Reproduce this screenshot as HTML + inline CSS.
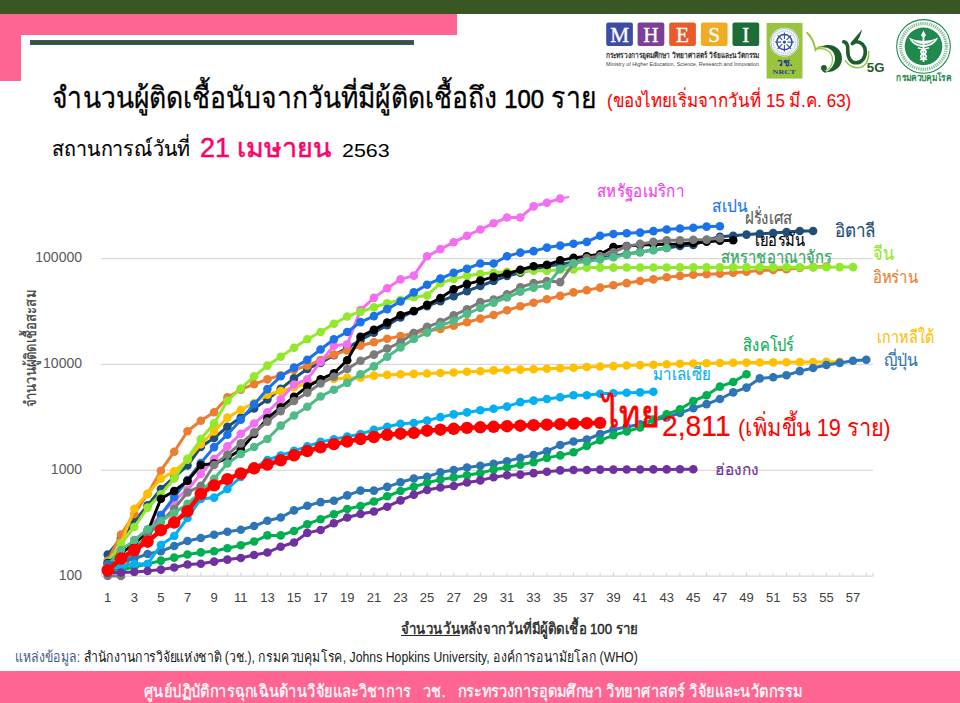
<!DOCTYPE html>
<html><head><meta charset="utf-8">
<style>
html,body{margin:0;padding:0;background:#fff;}
body{width:960px;height:703px;position:relative;overflow:hidden;font-family:"Liberation Sans",sans-serif;}
.t{position:absolute;white-space:nowrap;line-height:1;transform-origin:0 0;}
.xl{position:absolute;top:591px;width:30px;text-align:center;font-size:13px;color:#404040;line-height:1;}
.yl{position:absolute;font-size:14px;color:#595959;line-height:1;text-align:right;width:80px;}
</style></head><body>
<div style="position:absolute;left:0;top:0;width:960px;height:14px;background:#385723"></div>
<div style="position:absolute;left:0;top:14px;width:457px;height:21px;background:#ff6593"></div>
<div style="position:absolute;left:0;top:14px;width:21px;height:67px;background:#ff6593"></div>
<div style="position:absolute;left:30px;top:39.5px;width:384px;height:5.5px;background:#2f5597"></div>
<div style="position:absolute;left:31px;top:40.7px;width:382px;height:3px;background:#385723"></div>

<svg width="960" height="703" style="position:absolute;left:0;top:0">
<line x1="101" y1="258.6" x2="873" y2="258.6" stroke="#d9d9d9" stroke-width="1.3"/>
<line x1="101" y1="364.4" x2="873" y2="364.4" stroke="#d9d9d9" stroke-width="1.3"/>
<line x1="101" y1="470.3" x2="873" y2="470.3" stroke="#d9d9d9" stroke-width="1.3"/>
<line x1="101" y1="576.2" x2="873" y2="576.2" stroke="#d9d9d9" stroke-width="1.3"/>
<path d="M107.66 576.2V572.6M120.97 576.2V572.6M134.28 576.2V572.6M147.59 576.2V572.6M160.90 576.2V572.6M174.20 576.2V572.6M187.51 576.2V572.6M200.82 576.2V572.6M214.13 576.2V572.6M227.44 576.2V572.6M240.75 576.2V572.6M254.06 576.2V572.6M267.38 576.2V572.6M280.69 576.2V572.6M294.00 576.2V572.6M307.31 576.2V572.6M320.62 576.2V572.6M333.93 576.2V572.6M347.24 576.2V572.6M360.55 576.2V572.6M373.86 576.2V572.6M387.17 576.2V572.6M400.48 576.2V572.6M413.79 576.2V572.6M427.10 576.2V572.6M440.41 576.2V572.6M453.72 576.2V572.6M467.03 576.2V572.6M480.34 576.2V572.6M493.65 576.2V572.6M506.96 576.2V572.6M520.27 576.2V572.6M533.58 576.2V572.6M546.88 576.2V572.6M560.19 576.2V572.6M573.50 576.2V572.6M586.82 576.2V572.6M600.12 576.2V572.6M613.44 576.2V572.6M626.75 576.2V572.6M640.06 576.2V572.6M653.37 576.2V572.6M666.68 576.2V572.6M679.99 576.2V572.6M693.30 576.2V572.6M706.61 576.2V572.6M719.92 576.2V572.6M733.23 576.2V572.6M746.53 576.2V572.6M759.85 576.2V572.6M773.15 576.2V572.6M786.47 576.2V572.6M799.77 576.2V572.6M813.09 576.2V572.6M826.39 576.2V572.6M839.71 576.2V572.6M853.01 576.2V572.6M866.33 576.2V572.6M873 576.2V572.6M101.5 576.2V572.6" stroke="#d9d9d9" stroke-width="1.1" fill="none"/>
<polyline points="107.7,554.6 121.0,538.2 134.3,521.8 147.6,505.4 160.9,489.0 174.2,477.2 187.5,465.5 200.8,447.0 214.1,438.0 227.4,426.8 240.8,417.6 254.1,408.5 267.4,399.5 280.7,388.9 294.0,378.4 307.3,369.0 320.6,362.9 333.9,355.3 347.2,347.8 360.5,340.2 373.9,332.6 387.2,325.1 400.5,317.5 413.8,311.3 427.1,306.2 440.4,301.2 453.7,296.1 467.0,291.1 480.3,286.0 493.6,281.0 507.0,275.9 520.3,272.7 533.6,269.4 546.9,266.2 560.2,264.2 573.5,262.2 586.8,260.1 600.1,258.1 613.4,256.1 626.7,254.1 640.1,252.1 653.4,250.0 666.7,248.0 680.0,246.0 693.3,245.0 706.6,240.0 719.9,236.7 733.2,235.8 746.5,234.6 759.8,233.8 773.2,233.1 786.5,232.1 799.8,231.0 813.1,231.0" fill="none" stroke="#1f4e79" stroke-width="3.0" stroke-linejoin="round"/>
<g fill="#1f4e79"><circle cx="107.7" cy="554.6" r="4.3"/><circle cx="121.0" cy="538.2" r="4.3"/><circle cx="134.3" cy="521.8" r="4.3"/><circle cx="147.6" cy="505.4" r="4.3"/><circle cx="160.9" cy="489.0" r="4.3"/><circle cx="174.2" cy="477.2" r="4.3"/><circle cx="187.5" cy="465.5" r="4.3"/><circle cx="200.8" cy="447.0" r="4.3"/><circle cx="214.1" cy="438.0" r="4.3"/><circle cx="227.4" cy="426.8" r="4.3"/><circle cx="240.8" cy="417.6" r="4.3"/><circle cx="254.1" cy="408.5" r="4.3"/><circle cx="267.4" cy="399.5" r="4.3"/><circle cx="280.7" cy="388.9" r="4.3"/><circle cx="294.0" cy="378.4" r="4.3"/><circle cx="307.3" cy="369.0" r="4.3"/><circle cx="320.6" cy="362.9" r="4.3"/><circle cx="333.9" cy="355.3" r="4.3"/><circle cx="347.2" cy="347.8" r="4.3"/><circle cx="360.5" cy="340.2" r="4.3"/><circle cx="373.9" cy="332.6" r="4.3"/><circle cx="387.2" cy="325.1" r="4.3"/><circle cx="400.5" cy="317.5" r="4.3"/><circle cx="413.8" cy="311.3" r="4.3"/><circle cx="427.1" cy="306.2" r="4.3"/><circle cx="440.4" cy="301.2" r="4.3"/><circle cx="453.7" cy="296.1" r="4.3"/><circle cx="467.0" cy="291.1" r="4.3"/><circle cx="480.3" cy="286.0" r="4.3"/><circle cx="493.6" cy="281.0" r="4.3"/><circle cx="507.0" cy="275.9" r="4.3"/><circle cx="520.3" cy="272.7" r="4.3"/><circle cx="533.6" cy="269.4" r="4.3"/><circle cx="546.9" cy="266.2" r="4.3"/><circle cx="560.2" cy="264.2" r="4.3"/><circle cx="573.5" cy="262.2" r="4.3"/><circle cx="586.8" cy="260.1" r="4.3"/><circle cx="600.1" cy="258.1" r="4.3"/><circle cx="613.4" cy="256.1" r="4.3"/><circle cx="626.7" cy="254.1" r="4.3"/><circle cx="640.1" cy="252.1" r="4.3"/><circle cx="653.4" cy="250.0" r="4.3"/><circle cx="666.7" cy="248.0" r="4.3"/><circle cx="680.0" cy="246.0" r="4.3"/><circle cx="693.3" cy="245.0" r="4.3"/><circle cx="706.6" cy="240.0" r="4.3"/><circle cx="719.9" cy="236.7" r="4.3"/><circle cx="733.2" cy="235.8" r="4.3"/><circle cx="746.5" cy="234.6" r="4.3"/><circle cx="759.8" cy="233.8" r="4.3"/><circle cx="773.2" cy="233.1" r="4.3"/><circle cx="786.5" cy="232.1" r="4.3"/><circle cx="799.8" cy="231.0" r="4.3"/><circle cx="813.1" cy="231.0" r="4.3"/></g>
<polyline points="107.7,560.6 121.0,534.5 134.3,514.0 147.6,494.0 160.9,470.7 174.2,451.7 187.5,431.2 200.8,420.8 214.1,412.2 227.4,397.4 240.8,389.7 254.1,384.1 267.4,379.4 280.7,375.3 294.0,370.0 307.3,365.6 320.6,360.0 333.9,354.6 347.2,350.5 360.5,345.8 373.9,342.3 387.2,338.8 400.5,336.1 413.8,333.0 427.1,331.0 440.4,328.9 453.7,325.8 467.0,322.3 480.3,318.6 493.6,315.0 507.0,310.3 520.3,306.2 533.6,302.7 546.9,299.2 560.2,295.9 573.5,292.4 586.8,290.3 600.1,287.6 613.4,285.2 626.7,283.1 640.1,281.0 653.4,279.4 666.7,277.3 680.0,275.9 693.3,274.8 706.6,274.3 719.9,273.8 733.2,272.7 746.5,271.7 759.8,270.6 773.2,270.0 786.5,269.2 799.8,267.9 813.1,267.1 826.4,266.5" fill="none" stroke="#ed7d31" stroke-width="3.0" stroke-linejoin="round"/>
<g fill="#ed7d31"><circle cx="107.7" cy="560.6" r="4.3"/><circle cx="121.0" cy="534.5" r="4.3"/><circle cx="134.3" cy="514.0" r="4.3"/><circle cx="147.6" cy="494.0" r="4.3"/><circle cx="160.9" cy="470.7" r="4.3"/><circle cx="174.2" cy="451.7" r="4.3"/><circle cx="187.5" cy="431.2" r="4.3"/><circle cx="200.8" cy="420.8" r="4.3"/><circle cx="214.1" cy="412.2" r="4.3"/><circle cx="227.4" cy="397.4" r="4.3"/><circle cx="240.8" cy="389.7" r="4.3"/><circle cx="254.1" cy="384.1" r="4.3"/><circle cx="267.4" cy="379.4" r="4.3"/><circle cx="280.7" cy="375.3" r="4.3"/><circle cx="294.0" cy="370.0" r="4.3"/><circle cx="307.3" cy="365.6" r="4.3"/><circle cx="320.6" cy="360.0" r="4.3"/><circle cx="333.9" cy="354.6" r="4.3"/><circle cx="347.2" cy="350.5" r="4.3"/><circle cx="360.5" cy="345.8" r="4.3"/><circle cx="373.9" cy="342.3" r="4.3"/><circle cx="387.2" cy="338.8" r="4.3"/><circle cx="400.5" cy="336.1" r="4.3"/><circle cx="413.8" cy="333.0" r="4.3"/><circle cx="427.1" cy="331.0" r="4.3"/><circle cx="440.4" cy="328.9" r="4.3"/><circle cx="453.7" cy="325.8" r="4.3"/><circle cx="467.0" cy="322.3" r="4.3"/><circle cx="480.3" cy="318.6" r="4.3"/><circle cx="493.6" cy="315.0" r="4.3"/><circle cx="507.0" cy="310.3" r="4.3"/><circle cx="520.3" cy="306.2" r="4.3"/><circle cx="533.6" cy="302.7" r="4.3"/><circle cx="546.9" cy="299.2" r="4.3"/><circle cx="560.2" cy="295.9" r="4.3"/><circle cx="573.5" cy="292.4" r="4.3"/><circle cx="586.8" cy="290.3" r="4.3"/><circle cx="600.1" cy="287.6" r="4.3"/><circle cx="613.4" cy="285.2" r="4.3"/><circle cx="626.7" cy="283.1" r="4.3"/><circle cx="640.1" cy="281.0" r="4.3"/><circle cx="653.4" cy="279.4" r="4.3"/><circle cx="666.7" cy="277.3" r="4.3"/><circle cx="680.0" cy="275.9" r="4.3"/><circle cx="693.3" cy="274.8" r="4.3"/><circle cx="706.6" cy="274.3" r="4.3"/><circle cx="719.9" cy="273.8" r="4.3"/><circle cx="733.2" cy="272.7" r="4.3"/><circle cx="746.5" cy="271.7" r="4.3"/><circle cx="759.8" cy="270.6" r="4.3"/><circle cx="773.2" cy="270.0" r="4.3"/><circle cx="786.5" cy="269.2" r="4.3"/><circle cx="799.8" cy="267.9" r="4.3"/><circle cx="813.1" cy="267.1" r="4.3"/><circle cx="826.4" cy="266.5" r="4.3"/></g>
<polyline points="107.7,574.4 121.0,543.4 134.3,508.8 147.6,493.7 160.9,478.8 174.2,471.4 187.5,459.7 200.8,444.2 214.1,431.4 227.4,417.6 240.8,409.8 254.1,403.0 267.4,394.7 280.7,391.0 294.0,387.3 307.3,383.7 320.6,380.7 333.9,378.9 347.2,377.9 360.5,377.7 373.9,375.6 387.2,374.9 400.5,374.3 413.8,373.9 427.1,373.5 440.4,373.0 453.7,372.5 467.0,371.7 480.3,371.2 493.6,370.4 507.0,369.9 520.3,369.6 533.6,369.2 546.9,368.7 560.2,368.2 573.5,367.7 586.8,367.0 600.1,366.5 613.4,366.1 626.7,365.5 640.1,365.1 653.4,364.7 666.7,364.3 680.0,363.8 693.3,363.5 706.6,363.3 719.9,363.0 733.2,362.8 746.5,362.6 759.8,362.5 773.2,362.4 786.5,362.2 799.8,362.1 813.1,362.0 826.4,361.9 839.7,361.8" fill="none" stroke="#ffc000" stroke-width="3.0" stroke-linejoin="round"/>
<g fill="#ffc000"><circle cx="107.7" cy="574.4" r="4.3"/><circle cx="121.0" cy="543.4" r="4.3"/><circle cx="134.3" cy="508.8" r="4.3"/><circle cx="147.6" cy="493.7" r="4.3"/><circle cx="160.9" cy="478.8" r="4.3"/><circle cx="174.2" cy="471.4" r="4.3"/><circle cx="187.5" cy="459.7" r="4.3"/><circle cx="200.8" cy="444.2" r="4.3"/><circle cx="214.1" cy="431.4" r="4.3"/><circle cx="227.4" cy="417.6" r="4.3"/><circle cx="240.8" cy="409.8" r="4.3"/><circle cx="254.1" cy="403.0" r="4.3"/><circle cx="267.4" cy="394.7" r="4.3"/><circle cx="280.7" cy="391.0" r="4.3"/><circle cx="294.0" cy="387.3" r="4.3"/><circle cx="307.3" cy="383.7" r="4.3"/><circle cx="320.6" cy="380.7" r="4.3"/><circle cx="333.9" cy="378.9" r="4.3"/><circle cx="347.2" cy="377.9" r="4.3"/><circle cx="360.5" cy="377.7" r="4.3"/><circle cx="373.9" cy="375.6" r="4.3"/><circle cx="387.2" cy="374.9" r="4.3"/><circle cx="400.5" cy="374.3" r="4.3"/><circle cx="413.8" cy="373.9" r="4.3"/><circle cx="427.1" cy="373.5" r="4.3"/><circle cx="440.4" cy="373.0" r="4.3"/><circle cx="453.7" cy="372.5" r="4.3"/><circle cx="467.0" cy="371.7" r="4.3"/><circle cx="480.3" cy="371.2" r="4.3"/><circle cx="493.6" cy="370.4" r="4.3"/><circle cx="507.0" cy="369.9" r="4.3"/><circle cx="520.3" cy="369.6" r="4.3"/><circle cx="533.6" cy="369.2" r="4.3"/><circle cx="546.9" cy="368.7" r="4.3"/><circle cx="560.2" cy="368.2" r="4.3"/><circle cx="573.5" cy="367.7" r="4.3"/><circle cx="586.8" cy="367.0" r="4.3"/><circle cx="600.1" cy="366.5" r="4.3"/><circle cx="613.4" cy="366.1" r="4.3"/><circle cx="626.7" cy="365.5" r="4.3"/><circle cx="640.1" cy="365.1" r="4.3"/><circle cx="653.4" cy="364.7" r="4.3"/><circle cx="666.7" cy="364.3" r="4.3"/><circle cx="680.0" cy="363.8" r="4.3"/><circle cx="693.3" cy="363.5" r="4.3"/><circle cx="706.6" cy="363.3" r="4.3"/><circle cx="719.9" cy="363.0" r="4.3"/><circle cx="733.2" cy="362.8" r="4.3"/><circle cx="746.5" cy="362.6" r="4.3"/><circle cx="759.8" cy="362.5" r="4.3"/><circle cx="773.2" cy="362.4" r="4.3"/><circle cx="786.5" cy="362.2" r="4.3"/><circle cx="799.8" cy="362.1" r="4.3"/><circle cx="813.1" cy="362.0" r="4.3"/><circle cx="826.4" cy="361.9" r="4.3"/><circle cx="839.7" cy="361.8" r="4.3"/></g>
<polyline points="107.7,572.0 121.0,555.0 134.3,540.0 147.6,530.0 160.9,515.0 174.2,500.0 187.5,490.0 200.8,474.0 214.1,459.0 227.4,446.3 240.8,433.8 254.1,423.5 267.4,412.3 280.7,399.3 294.0,384.5 307.3,379.4 320.6,361.9 333.9,345.8 347.2,344.3 360.5,310.1 373.9,297.9 387.2,288.2 400.5,279.4 413.8,275.6 427.1,256.3 440.4,249.1 453.7,242.3 467.0,235.7 480.3,229.5 493.6,223.3 507.0,217.5 520.3,217.5 533.6,206.4 546.9,202.7 560.2,198.6" fill="none" stroke="#f46ef0" stroke-width="3.0" stroke-linejoin="round"/>
<g fill="#f46ef0"><circle cx="107.7" cy="572.0" r="4.3"/><circle cx="121.0" cy="555.0" r="4.3"/><circle cx="134.3" cy="540.0" r="4.3"/><circle cx="147.6" cy="530.0" r="4.3"/><circle cx="160.9" cy="515.0" r="4.3"/><circle cx="174.2" cy="500.0" r="4.3"/><circle cx="187.5" cy="490.0" r="4.3"/><circle cx="200.8" cy="474.0" r="4.3"/><circle cx="214.1" cy="459.0" r="4.3"/><circle cx="227.4" cy="446.3" r="4.3"/><circle cx="240.8" cy="433.8" r="4.3"/><circle cx="254.1" cy="423.5" r="4.3"/><circle cx="267.4" cy="412.3" r="4.3"/><circle cx="280.7" cy="399.3" r="4.3"/><circle cx="294.0" cy="384.5" r="4.3"/><circle cx="307.3" cy="379.4" r="4.3"/><circle cx="320.6" cy="361.9" r="4.3"/><circle cx="333.9" cy="345.8" r="4.3"/><circle cx="347.2" cy="344.3" r="4.3"/><circle cx="360.5" cy="310.1" r="4.3"/><circle cx="373.9" cy="297.9" r="4.3"/><circle cx="387.2" cy="288.2" r="4.3"/><circle cx="400.5" cy="279.4" r="4.3"/><circle cx="413.8" cy="275.6" r="4.3"/><circle cx="427.1" cy="256.3" r="4.3"/><circle cx="440.4" cy="249.1" r="4.3"/><circle cx="453.7" cy="242.3" r="4.3"/><circle cx="467.0" cy="235.7" r="4.3"/><circle cx="480.3" cy="229.5" r="4.3"/><circle cx="493.6" cy="223.3" r="4.3"/><circle cx="507.0" cy="217.5" r="4.3"/><circle cx="520.3" cy="217.5" r="4.3"/><circle cx="533.6" cy="206.4" r="4.3"/><circle cx="546.9" cy="202.7" r="4.3"/><circle cx="560.2" cy="198.6" r="4.3"/></g>
<polyline points="107.7,562.0 121.0,544.2 134.3,527.0 147.6,507.6 160.9,494.4 174.2,478.5 187.5,458.7 200.8,439.0 214.1,423.4 227.4,400.8 240.8,388.5 254.1,376.3 267.4,365.6 280.7,356.7 294.0,347.8 307.3,339.2 320.6,332.0 333.9,323.7 347.2,316.5 360.5,311.7 373.9,307.3 387.2,303.2 400.5,300.0 413.8,297.3 427.1,295.5 440.4,283.1 453.7,279.0 467.0,275.9 480.3,273.8 493.6,272.8 507.0,271.8 520.3,271.5 533.6,270.7 546.9,270.7 560.2,269.7 573.5,269.5 586.8,267.6 600.1,267.6 613.4,267.6 626.7,267.5 640.1,267.5 653.4,267.5 666.7,267.5 680.0,267.4 693.3,267.4 706.6,267.4 719.9,267.4 733.2,267.3 746.5,267.3 759.8,267.3 773.2,267.2 786.5,267.2 799.8,267.2 813.1,267.2 826.4,267.2 839.7,267.1 853.0,267.1" fill="none" stroke="#92e82a" stroke-width="3.0" stroke-linejoin="round"/>
<g fill="#92e82a"><circle cx="107.7" cy="562.0" r="4.3"/><circle cx="121.0" cy="544.2" r="4.3"/><circle cx="134.3" cy="527.0" r="4.3"/><circle cx="147.6" cy="507.6" r="4.3"/><circle cx="160.9" cy="494.4" r="4.3"/><circle cx="174.2" cy="478.5" r="4.3"/><circle cx="187.5" cy="458.7" r="4.3"/><circle cx="200.8" cy="439.0" r="4.3"/><circle cx="214.1" cy="423.4" r="4.3"/><circle cx="227.4" cy="400.8" r="4.3"/><circle cx="240.8" cy="388.5" r="4.3"/><circle cx="254.1" cy="376.3" r="4.3"/><circle cx="267.4" cy="365.6" r="4.3"/><circle cx="280.7" cy="356.7" r="4.3"/><circle cx="294.0" cy="347.8" r="4.3"/><circle cx="307.3" cy="339.2" r="4.3"/><circle cx="320.6" cy="332.0" r="4.3"/><circle cx="333.9" cy="323.7" r="4.3"/><circle cx="347.2" cy="316.5" r="4.3"/><circle cx="360.5" cy="311.7" r="4.3"/><circle cx="373.9" cy="307.3" r="4.3"/><circle cx="387.2" cy="303.2" r="4.3"/><circle cx="400.5" cy="300.0" r="4.3"/><circle cx="413.8" cy="297.3" r="4.3"/><circle cx="427.1" cy="295.5" r="4.3"/><circle cx="440.4" cy="283.1" r="4.3"/><circle cx="453.7" cy="279.0" r="4.3"/><circle cx="467.0" cy="275.9" r="4.3"/><circle cx="480.3" cy="273.8" r="4.3"/><circle cx="493.6" cy="272.8" r="4.3"/><circle cx="507.0" cy="271.8" r="4.3"/><circle cx="520.3" cy="271.5" r="4.3"/><circle cx="533.6" cy="270.7" r="4.3"/><circle cx="546.9" cy="270.7" r="4.3"/><circle cx="560.2" cy="269.7" r="4.3"/><circle cx="573.5" cy="269.5" r="4.3"/><circle cx="586.8" cy="267.6" r="4.3"/><circle cx="600.1" cy="267.6" r="4.3"/><circle cx="613.4" cy="267.6" r="4.3"/><circle cx="626.7" cy="267.5" r="4.3"/><circle cx="640.1" cy="267.5" r="4.3"/><circle cx="653.4" cy="267.5" r="4.3"/><circle cx="666.7" cy="267.5" r="4.3"/><circle cx="680.0" cy="267.4" r="4.3"/><circle cx="693.3" cy="267.4" r="4.3"/><circle cx="706.6" cy="267.4" r="4.3"/><circle cx="719.9" cy="267.4" r="4.3"/><circle cx="733.2" cy="267.3" r="4.3"/><circle cx="746.5" cy="267.3" r="4.3"/><circle cx="759.8" cy="267.3" r="4.3"/><circle cx="773.2" cy="267.2" r="4.3"/><circle cx="786.5" cy="267.2" r="4.3"/><circle cx="799.8" cy="267.2" r="4.3"/><circle cx="813.1" cy="267.2" r="4.3"/><circle cx="826.4" cy="267.2" r="4.3"/><circle cx="839.7" cy="267.1" r="4.3"/><circle cx="853.0" cy="267.1" r="4.3"/></g>
<polyline points="107.7,570.0 121.0,562.0 134.3,555.0 147.6,538.0 160.9,515.0 174.2,497.0 187.5,480.0 200.8,463.0 214.1,447.1 227.4,434.7 240.8,419.8 254.1,404.3 267.4,389.1 280.7,376.3 294.0,367.6 307.3,359.8 320.6,349.5 333.9,339.2 347.2,332.0 360.5,322.1 373.9,316.1 387.2,309.1 400.5,301.5 413.8,292.4 427.1,284.7 440.4,278.6 453.7,272.8 467.0,268.7 480.3,263.5 493.6,263.5 507.0,256.3 520.3,252.6 533.6,251.1 546.9,247.6 560.2,245.6 573.5,243.7 586.8,241.9 600.1,235.7 613.4,234.0 626.7,233.2 640.1,232.6 653.4,231.1 666.7,229.5 680.0,228.5 693.3,227.8 706.6,226.6 719.9,226.3" fill="none" stroke="#1a73e8" stroke-width="3.0" stroke-linejoin="round"/>
<g fill="#1a73e8"><circle cx="107.7" cy="570.0" r="4.3"/><circle cx="121.0" cy="562.0" r="4.3"/><circle cx="134.3" cy="555.0" r="4.3"/><circle cx="147.6" cy="538.0" r="4.3"/><circle cx="160.9" cy="515.0" r="4.3"/><circle cx="174.2" cy="497.0" r="4.3"/><circle cx="187.5" cy="480.0" r="4.3"/><circle cx="200.8" cy="463.0" r="4.3"/><circle cx="214.1" cy="447.1" r="4.3"/><circle cx="227.4" cy="434.7" r="4.3"/><circle cx="240.8" cy="419.8" r="4.3"/><circle cx="254.1" cy="404.3" r="4.3"/><circle cx="267.4" cy="389.1" r="4.3"/><circle cx="280.7" cy="376.3" r="4.3"/><circle cx="294.0" cy="367.6" r="4.3"/><circle cx="307.3" cy="359.8" r="4.3"/><circle cx="320.6" cy="349.5" r="4.3"/><circle cx="333.9" cy="339.2" r="4.3"/><circle cx="347.2" cy="332.0" r="4.3"/><circle cx="360.5" cy="322.1" r="4.3"/><circle cx="373.9" cy="316.1" r="4.3"/><circle cx="387.2" cy="309.1" r="4.3"/><circle cx="400.5" cy="301.5" r="4.3"/><circle cx="413.8" cy="292.4" r="4.3"/><circle cx="427.1" cy="284.7" r="4.3"/><circle cx="440.4" cy="278.6" r="4.3"/><circle cx="453.7" cy="272.8" r="4.3"/><circle cx="467.0" cy="268.7" r="4.3"/><circle cx="480.3" cy="263.5" r="4.3"/><circle cx="493.6" cy="263.5" r="4.3"/><circle cx="507.0" cy="256.3" r="4.3"/><circle cx="520.3" cy="252.6" r="4.3"/><circle cx="533.6" cy="251.1" r="4.3"/><circle cx="546.9" cy="247.6" r="4.3"/><circle cx="560.2" cy="245.6" r="4.3"/><circle cx="573.5" cy="243.7" r="4.3"/><circle cx="586.8" cy="241.9" r="4.3"/><circle cx="600.1" cy="235.7" r="4.3"/><circle cx="613.4" cy="234.0" r="4.3"/><circle cx="626.7" cy="233.2" r="4.3"/><circle cx="640.1" cy="232.6" r="4.3"/><circle cx="653.4" cy="231.1" r="4.3"/><circle cx="666.7" cy="229.5" r="4.3"/><circle cx="680.0" cy="228.5" r="4.3"/><circle cx="693.3" cy="227.8" r="4.3"/><circle cx="706.6" cy="226.6" r="4.3"/><circle cx="719.9" cy="226.3" r="4.3"/></g>
<polyline points="107.7,563.0 121.0,553.0 134.3,544.0 147.6,532.0 160.9,498.7 174.2,491.0 187.5,481.0 200.8,465.1 214.1,463.5 227.4,458.0 240.8,449.7 254.1,434.0 267.4,418.4 280.7,407.4 294.0,396.9 307.3,386.6 320.6,379.4 333.9,373.2 347.2,360.2 360.5,336.7 373.9,329.9 387.2,322.5 400.5,315.3 413.8,311.0 427.1,304.9 440.4,298.0 453.7,289.3 467.0,284.1 480.3,280.6 493.6,276.9 507.0,273.8 520.3,269.7 533.6,266.2 546.9,264.9 560.2,260.4 573.5,257.9 586.8,256.3 600.1,254.2 613.4,247.0 626.7,246.0 640.1,245.0 653.4,244.5 666.7,244.2 680.0,243.9 693.3,243.0 706.6,241.7 719.9,240.8 733.2,240.2" fill="none" stroke="#000000" stroke-width="3.0" stroke-linejoin="round"/>
<g fill="#000000"><circle cx="107.7" cy="563.0" r="4.3"/><circle cx="121.0" cy="553.0" r="4.3"/><circle cx="134.3" cy="544.0" r="4.3"/><circle cx="147.6" cy="532.0" r="4.3"/><circle cx="160.9" cy="498.7" r="4.3"/><circle cx="174.2" cy="491.0" r="4.3"/><circle cx="187.5" cy="481.0" r="4.3"/><circle cx="200.8" cy="465.1" r="4.3"/><circle cx="214.1" cy="463.5" r="4.3"/><circle cx="227.4" cy="458.0" r="4.3"/><circle cx="240.8" cy="449.7" r="4.3"/><circle cx="254.1" cy="434.0" r="4.3"/><circle cx="267.4" cy="418.4" r="4.3"/><circle cx="280.7" cy="407.4" r="4.3"/><circle cx="294.0" cy="396.9" r="4.3"/><circle cx="307.3" cy="386.6" r="4.3"/><circle cx="320.6" cy="379.4" r="4.3"/><circle cx="333.9" cy="373.2" r="4.3"/><circle cx="347.2" cy="360.2" r="4.3"/><circle cx="360.5" cy="336.7" r="4.3"/><circle cx="373.9" cy="329.9" r="4.3"/><circle cx="387.2" cy="322.5" r="4.3"/><circle cx="400.5" cy="315.3" r="4.3"/><circle cx="413.8" cy="311.0" r="4.3"/><circle cx="427.1" cy="304.9" r="4.3"/><circle cx="440.4" cy="298.0" r="4.3"/><circle cx="453.7" cy="289.3" r="4.3"/><circle cx="467.0" cy="284.1" r="4.3"/><circle cx="480.3" cy="280.6" r="4.3"/><circle cx="493.6" cy="276.9" r="4.3"/><circle cx="507.0" cy="273.8" r="4.3"/><circle cx="520.3" cy="269.7" r="4.3"/><circle cx="533.6" cy="266.2" r="4.3"/><circle cx="546.9" cy="264.9" r="4.3"/><circle cx="560.2" cy="260.4" r="4.3"/><circle cx="573.5" cy="257.9" r="4.3"/><circle cx="586.8" cy="256.3" r="4.3"/><circle cx="600.1" cy="254.2" r="4.3"/><circle cx="613.4" cy="247.0" r="4.3"/><circle cx="626.7" cy="246.0" r="4.3"/><circle cx="640.1" cy="245.0" r="4.3"/><circle cx="653.4" cy="244.5" r="4.3"/><circle cx="666.7" cy="244.2" r="4.3"/><circle cx="680.0" cy="243.9" r="4.3"/><circle cx="693.3" cy="243.0" r="4.3"/><circle cx="706.6" cy="241.7" r="4.3"/><circle cx="719.9" cy="240.8" r="4.3"/><circle cx="733.2" cy="240.2" r="4.3"/></g>
<polyline points="107.7,576.0 121.0,576.0 134.3,550.0 147.6,535.0 160.9,522.0 174.2,508.5 187.5,492.5 200.8,485.8 214.1,465.0 227.4,454.6 240.8,443.4 254.1,432.4 267.4,421.6 280.7,411.1 294.0,401.0 307.3,392.8 320.6,383.5 333.9,376.7 347.2,369.0 360.5,360.8 373.9,354.6 387.2,348.5 400.5,342.3 413.8,333.0 427.1,326.8 440.4,322.1 453.7,315.2 467.0,309.4 480.3,302.1 493.6,299.6 507.0,294.4 520.3,287.2 533.6,283.1 546.9,281.0 560.2,282.1 573.5,263.5 586.8,258.0 600.1,256.0 613.4,252.2 626.7,246.4 640.1,243.9 653.4,241.9 666.7,240.2 680.0,240.2 693.3,239.8 706.6,239.6 719.9,238.2" fill="none" stroke="#7b7b7b" stroke-width="3.0" stroke-linejoin="round"/>
<g fill="#7b7b7b"><circle cx="107.7" cy="576.0" r="4.3"/><circle cx="121.0" cy="576.0" r="4.3"/><circle cx="134.3" cy="550.0" r="4.3"/><circle cx="147.6" cy="535.0" r="4.3"/><circle cx="160.9" cy="522.0" r="4.3"/><circle cx="174.2" cy="508.5" r="4.3"/><circle cx="187.5" cy="492.5" r="4.3"/><circle cx="200.8" cy="485.8" r="4.3"/><circle cx="214.1" cy="465.0" r="4.3"/><circle cx="227.4" cy="454.6" r="4.3"/><circle cx="240.8" cy="443.4" r="4.3"/><circle cx="254.1" cy="432.4" r="4.3"/><circle cx="267.4" cy="421.6" r="4.3"/><circle cx="280.7" cy="411.1" r="4.3"/><circle cx="294.0" cy="401.0" r="4.3"/><circle cx="307.3" cy="392.8" r="4.3"/><circle cx="320.6" cy="383.5" r="4.3"/><circle cx="333.9" cy="376.7" r="4.3"/><circle cx="347.2" cy="369.0" r="4.3"/><circle cx="360.5" cy="360.8" r="4.3"/><circle cx="373.9" cy="354.6" r="4.3"/><circle cx="387.2" cy="348.5" r="4.3"/><circle cx="400.5" cy="342.3" r="4.3"/><circle cx="413.8" cy="333.0" r="4.3"/><circle cx="427.1" cy="326.8" r="4.3"/><circle cx="440.4" cy="322.1" r="4.3"/><circle cx="453.7" cy="315.2" r="4.3"/><circle cx="467.0" cy="309.4" r="4.3"/><circle cx="480.3" cy="302.1" r="4.3"/><circle cx="493.6" cy="299.6" r="4.3"/><circle cx="507.0" cy="294.4" r="4.3"/><circle cx="520.3" cy="287.2" r="4.3"/><circle cx="533.6" cy="283.1" r="4.3"/><circle cx="546.9" cy="281.0" r="4.3"/><circle cx="560.2" cy="282.1" r="4.3"/><circle cx="573.5" cy="263.5" r="4.3"/><circle cx="586.8" cy="258.0" r="4.3"/><circle cx="600.1" cy="256.0" r="4.3"/><circle cx="613.4" cy="252.2" r="4.3"/><circle cx="626.7" cy="246.4" r="4.3"/><circle cx="640.1" cy="243.9" r="4.3"/><circle cx="653.4" cy="241.9" r="4.3"/><circle cx="666.7" cy="240.2" r="4.3"/><circle cx="680.0" cy="240.2" r="4.3"/><circle cx="693.3" cy="239.8" r="4.3"/><circle cx="706.6" cy="239.6" r="4.3"/><circle cx="719.9" cy="238.2" r="4.3"/></g>
<polyline points="107.7,565.0 121.0,550.1 134.3,540.4 147.6,529.3 160.9,521.0 174.2,513.0 187.5,503.9 200.8,492.0 214.1,478.8 227.4,463.4 240.8,454.0 254.1,447.0 267.4,439.0 280.7,425.6 294.0,415.5 307.3,406.8 320.6,396.5 333.9,389.7 347.2,382.9 360.5,374.2 373.9,366.4 387.2,356.7 400.5,347.4 413.8,339.0 427.1,332.6 440.4,325.5 453.7,320.8 467.0,314.0 480.3,308.0 493.6,302.6 507.0,297.5 520.3,291.8 533.6,287.6 546.9,285.6 560.2,268.7 573.5,263.0 586.8,261.4 600.1,259.4 613.4,257.3 626.7,254.6 640.1,252.2 653.4,250.1 666.7,248.0" fill="none" stroke="#4fbb87" stroke-width="3.0" stroke-linejoin="round"/>
<g fill="#4fbb87"><circle cx="107.7" cy="565.0" r="4.3"/><circle cx="121.0" cy="550.1" r="4.3"/><circle cx="134.3" cy="540.4" r="4.3"/><circle cx="147.6" cy="529.3" r="4.3"/><circle cx="160.9" cy="521.0" r="4.3"/><circle cx="174.2" cy="513.0" r="4.3"/><circle cx="187.5" cy="503.9" r="4.3"/><circle cx="200.8" cy="492.0" r="4.3"/><circle cx="214.1" cy="478.8" r="4.3"/><circle cx="227.4" cy="463.4" r="4.3"/><circle cx="240.8" cy="454.0" r="4.3"/><circle cx="254.1" cy="447.0" r="4.3"/><circle cx="267.4" cy="439.0" r="4.3"/><circle cx="280.7" cy="425.6" r="4.3"/><circle cx="294.0" cy="415.5" r="4.3"/><circle cx="307.3" cy="406.8" r="4.3"/><circle cx="320.6" cy="396.5" r="4.3"/><circle cx="333.9" cy="389.7" r="4.3"/><circle cx="347.2" cy="382.9" r="4.3"/><circle cx="360.5" cy="374.2" r="4.3"/><circle cx="373.9" cy="366.4" r="4.3"/><circle cx="387.2" cy="356.7" r="4.3"/><circle cx="400.5" cy="347.4" r="4.3"/><circle cx="413.8" cy="339.0" r="4.3"/><circle cx="427.1" cy="332.6" r="4.3"/><circle cx="440.4" cy="325.5" r="4.3"/><circle cx="453.7" cy="320.8" r="4.3"/><circle cx="467.0" cy="314.0" r="4.3"/><circle cx="480.3" cy="308.0" r="4.3"/><circle cx="493.6" cy="302.6" r="4.3"/><circle cx="507.0" cy="297.5" r="4.3"/><circle cx="520.3" cy="291.8" r="4.3"/><circle cx="533.6" cy="287.6" r="4.3"/><circle cx="546.9" cy="285.6" r="4.3"/><circle cx="560.2" cy="268.7" r="4.3"/><circle cx="573.5" cy="263.0" r="4.3"/><circle cx="586.8" cy="261.4" r="4.3"/><circle cx="600.1" cy="259.4" r="4.3"/><circle cx="613.4" cy="257.3" r="4.3"/><circle cx="626.7" cy="254.6" r="4.3"/><circle cx="640.1" cy="252.2" r="4.3"/><circle cx="653.4" cy="250.1" r="4.3"/><circle cx="666.7" cy="248.0" r="4.3"/></g>
<polyline points="107.7,563.7 121.0,561.6 134.3,558.6 147.6,554.0 160.9,551.3 174.2,546.0 187.5,541.0 200.8,538.0 214.1,534.8 227.4,531.8 240.8,529.7 254.1,526.0 267.4,520.8 280.7,517.5 294.0,510.4 307.3,505.8 320.6,502.1 333.9,500.8 347.2,495.4 360.5,490.6 373.9,490.6 387.2,486.9 400.5,482.3 413.8,478.5 427.1,476.7 440.4,472.3 453.7,470.0 467.0,467.5 480.3,465.8 493.6,463.8 507.0,461.2 520.3,457.9 533.6,455.0 546.9,451.2 560.2,445.0 573.5,441.5 586.8,439.5 600.1,434.0 613.4,429.5 626.7,427.0 640.1,424.2 653.4,420.0 666.7,417.5 680.0,413.0 693.3,408.2 706.6,404.1 719.9,399.0 733.2,392.4 746.5,387.6 759.8,378.4 773.2,377.3 786.5,375.3 799.8,371.1 813.1,368.0 826.4,365.0 839.7,362.9 853.0,360.8 866.3,359.8" fill="none" stroke="#2e75b6" stroke-width="3.0" stroke-linejoin="round"/>
<g fill="#2e75b6"><circle cx="107.7" cy="563.7" r="4.3"/><circle cx="121.0" cy="561.6" r="4.3"/><circle cx="134.3" cy="558.6" r="4.3"/><circle cx="147.6" cy="554.0" r="4.3"/><circle cx="160.9" cy="551.3" r="4.3"/><circle cx="174.2" cy="546.0" r="4.3"/><circle cx="187.5" cy="541.0" r="4.3"/><circle cx="200.8" cy="538.0" r="4.3"/><circle cx="214.1" cy="534.8" r="4.3"/><circle cx="227.4" cy="531.8" r="4.3"/><circle cx="240.8" cy="529.7" r="4.3"/><circle cx="254.1" cy="526.0" r="4.3"/><circle cx="267.4" cy="520.8" r="4.3"/><circle cx="280.7" cy="517.5" r="4.3"/><circle cx="294.0" cy="510.4" r="4.3"/><circle cx="307.3" cy="505.8" r="4.3"/><circle cx="320.6" cy="502.1" r="4.3"/><circle cx="333.9" cy="500.8" r="4.3"/><circle cx="347.2" cy="495.4" r="4.3"/><circle cx="360.5" cy="490.6" r="4.3"/><circle cx="373.9" cy="490.6" r="4.3"/><circle cx="387.2" cy="486.9" r="4.3"/><circle cx="400.5" cy="482.3" r="4.3"/><circle cx="413.8" cy="478.5" r="4.3"/><circle cx="427.1" cy="476.7" r="4.3"/><circle cx="440.4" cy="472.3" r="4.3"/><circle cx="453.7" cy="470.0" r="4.3"/><circle cx="467.0" cy="467.5" r="4.3"/><circle cx="480.3" cy="465.8" r="4.3"/><circle cx="493.6" cy="463.8" r="4.3"/><circle cx="507.0" cy="461.2" r="4.3"/><circle cx="520.3" cy="457.9" r="4.3"/><circle cx="533.6" cy="455.0" r="4.3"/><circle cx="546.9" cy="451.2" r="4.3"/><circle cx="560.2" cy="445.0" r="4.3"/><circle cx="573.5" cy="441.5" r="4.3"/><circle cx="586.8" cy="439.5" r="4.3"/><circle cx="600.1" cy="434.0" r="4.3"/><circle cx="613.4" cy="429.5" r="4.3"/><circle cx="626.7" cy="427.0" r="4.3"/><circle cx="640.1" cy="424.2" r="4.3"/><circle cx="653.4" cy="420.0" r="4.3"/><circle cx="666.7" cy="417.5" r="4.3"/><circle cx="680.0" cy="413.0" r="4.3"/><circle cx="693.3" cy="408.2" r="4.3"/><circle cx="706.6" cy="404.1" r="4.3"/><circle cx="719.9" cy="399.0" r="4.3"/><circle cx="733.2" cy="392.4" r="4.3"/><circle cx="746.5" cy="387.6" r="4.3"/><circle cx="759.8" cy="378.4" r="4.3"/><circle cx="773.2" cy="377.3" r="4.3"/><circle cx="786.5" cy="375.3" r="4.3"/><circle cx="799.8" cy="371.1" r="4.3"/><circle cx="813.1" cy="368.0" r="4.3"/><circle cx="826.4" cy="365.0" r="4.3"/><circle cx="839.7" cy="362.9" r="4.3"/><circle cx="853.0" cy="360.8" r="4.3"/><circle cx="866.3" cy="359.8" r="4.3"/></g>
<polyline points="107.7,571.0 121.0,570.0 134.3,567.0 147.6,564.0 160.9,560.6 174.2,557.6 187.5,554.5 200.8,552.4 214.1,551.3 227.4,548.2 240.8,545.2 254.1,541.5 267.4,535.4 280.7,535.4 294.0,531.0 307.3,524.2 320.6,519.2 333.9,514.2 347.2,509.0 360.5,506.0 373.9,501.5 387.2,496.3 400.5,491.0 413.8,486.9 427.1,482.7 440.4,479.6 453.7,477.4 467.0,475.2 480.3,473.1 493.6,469.6 507.0,467.5 520.3,464.8 533.6,462.1 546.9,457.9 560.2,455.4 573.5,452.3 586.8,446.0 600.1,440.3 613.4,435.3 626.7,431.5 640.1,427.5 653.4,419.6 666.7,414.4 680.0,409.3 693.3,401.0 706.6,395.3 719.9,386.6 733.2,382.0 746.5,374.2" fill="none" stroke="#00b050" stroke-width="3.0" stroke-linejoin="round"/>
<g fill="#00b050"><circle cx="107.7" cy="571.0" r="4.3"/><circle cx="121.0" cy="570.0" r="4.3"/><circle cx="134.3" cy="567.0" r="4.3"/><circle cx="147.6" cy="564.0" r="4.3"/><circle cx="160.9" cy="560.6" r="4.3"/><circle cx="174.2" cy="557.6" r="4.3"/><circle cx="187.5" cy="554.5" r="4.3"/><circle cx="200.8" cy="552.4" r="4.3"/><circle cx="214.1" cy="551.3" r="4.3"/><circle cx="227.4" cy="548.2" r="4.3"/><circle cx="240.8" cy="545.2" r="4.3"/><circle cx="254.1" cy="541.5" r="4.3"/><circle cx="267.4" cy="535.4" r="4.3"/><circle cx="280.7" cy="535.4" r="4.3"/><circle cx="294.0" cy="531.0" r="4.3"/><circle cx="307.3" cy="524.2" r="4.3"/><circle cx="320.6" cy="519.2" r="4.3"/><circle cx="333.9" cy="514.2" r="4.3"/><circle cx="347.2" cy="509.0" r="4.3"/><circle cx="360.5" cy="506.0" r="4.3"/><circle cx="373.9" cy="501.5" r="4.3"/><circle cx="387.2" cy="496.3" r="4.3"/><circle cx="400.5" cy="491.0" r="4.3"/><circle cx="413.8" cy="486.9" r="4.3"/><circle cx="427.1" cy="482.7" r="4.3"/><circle cx="440.4" cy="479.6" r="4.3"/><circle cx="453.7" cy="477.4" r="4.3"/><circle cx="467.0" cy="475.2" r="4.3"/><circle cx="480.3" cy="473.1" r="4.3"/><circle cx="493.6" cy="469.6" r="4.3"/><circle cx="507.0" cy="467.5" r="4.3"/><circle cx="520.3" cy="464.8" r="4.3"/><circle cx="533.6" cy="462.1" r="4.3"/><circle cx="546.9" cy="457.9" r="4.3"/><circle cx="560.2" cy="455.4" r="4.3"/><circle cx="573.5" cy="452.3" r="4.3"/><circle cx="586.8" cy="446.0" r="4.3"/><circle cx="600.1" cy="440.3" r="4.3"/><circle cx="613.4" cy="435.3" r="4.3"/><circle cx="626.7" cy="431.5" r="4.3"/><circle cx="640.1" cy="427.5" r="4.3"/><circle cx="653.4" cy="419.6" r="4.3"/><circle cx="666.7" cy="414.4" r="4.3"/><circle cx="680.0" cy="409.3" r="4.3"/><circle cx="693.3" cy="401.0" r="4.3"/><circle cx="706.6" cy="395.3" r="4.3"/><circle cx="719.9" cy="386.6" r="4.3"/><circle cx="733.2" cy="382.0" r="4.3"/><circle cx="746.5" cy="374.2" r="4.3"/></g>
<polyline points="107.7,568.0 121.0,567.0 134.3,563.7 147.6,564.0 160.9,545.0 174.2,536.0 187.5,518.0 200.8,499.0 214.1,497.6 227.4,489.0 240.8,477.0 254.1,468.0 267.4,460.0 280.7,455.5 294.0,450.9 307.3,446.4 320.6,441.9 333.9,439.3 347.2,436.6 360.5,434.0 373.9,429.9 387.2,426.8 400.5,423.7 413.8,423.0 427.1,420.6 440.4,417.1 453.7,414.4 467.0,412.4 480.3,410.3 493.6,408.7 507.0,406.6 520.3,402.1 533.6,400.6 546.9,399.0 560.2,397.3 573.5,395.3 586.8,395.3 600.1,393.8 613.4,393.2 626.7,392.8 640.1,392.4 653.4,391.8" fill="none" stroke="#00b0f0" stroke-width="3.0" stroke-linejoin="round"/>
<g fill="#00b0f0"><circle cx="107.7" cy="568.0" r="4.3"/><circle cx="121.0" cy="567.0" r="4.3"/><circle cx="134.3" cy="563.7" r="4.3"/><circle cx="147.6" cy="564.0" r="4.3"/><circle cx="160.9" cy="545.0" r="4.3"/><circle cx="174.2" cy="536.0" r="4.3"/><circle cx="187.5" cy="518.0" r="4.3"/><circle cx="200.8" cy="499.0" r="4.3"/><circle cx="214.1" cy="497.6" r="4.3"/><circle cx="227.4" cy="489.0" r="4.3"/><circle cx="240.8" cy="477.0" r="4.3"/><circle cx="254.1" cy="468.0" r="4.3"/><circle cx="267.4" cy="460.0" r="4.3"/><circle cx="280.7" cy="455.5" r="4.3"/><circle cx="294.0" cy="450.9" r="4.3"/><circle cx="307.3" cy="446.4" r="4.3"/><circle cx="320.6" cy="441.9" r="4.3"/><circle cx="333.9" cy="439.3" r="4.3"/><circle cx="347.2" cy="436.6" r="4.3"/><circle cx="360.5" cy="434.0" r="4.3"/><circle cx="373.9" cy="429.9" r="4.3"/><circle cx="387.2" cy="426.8" r="4.3"/><circle cx="400.5" cy="423.7" r="4.3"/><circle cx="413.8" cy="423.0" r="4.3"/><circle cx="427.1" cy="420.6" r="4.3"/><circle cx="440.4" cy="417.1" r="4.3"/><circle cx="453.7" cy="414.4" r="4.3"/><circle cx="467.0" cy="412.4" r="4.3"/><circle cx="480.3" cy="410.3" r="4.3"/><circle cx="493.6" cy="408.7" r="4.3"/><circle cx="507.0" cy="406.6" r="4.3"/><circle cx="520.3" cy="402.1" r="4.3"/><circle cx="533.6" cy="400.6" r="4.3"/><circle cx="546.9" cy="399.0" r="4.3"/><circle cx="560.2" cy="397.3" r="4.3"/><circle cx="573.5" cy="395.3" r="4.3"/><circle cx="586.8" cy="395.3" r="4.3"/><circle cx="600.1" cy="393.8" r="4.3"/><circle cx="613.4" cy="393.2" r="4.3"/><circle cx="626.7" cy="392.8" r="4.3"/><circle cx="640.1" cy="392.4" r="4.3"/><circle cx="653.4" cy="391.8" r="4.3"/></g>
<polyline points="107.7,573.0 121.0,572.5 134.3,572.0 147.6,571.0 160.9,569.6 174.2,567.5 187.5,564.5 200.8,563.7 214.1,561.6 227.4,559.6 240.8,558.0 254.1,555.0 267.4,552.5 280.7,546.7 294.0,542.5 307.3,532.9 320.6,530.0 333.9,523.3 347.2,517.5 360.5,514.0 373.9,511.5 387.2,506.7 400.5,500.4 413.8,494.8 427.1,490.0 440.4,487.5 453.7,486.0 467.0,482.5 480.3,480.4 493.6,477.3 507.0,475.2 520.3,474.6 533.6,473.1 546.9,471.7 560.2,470.4 573.5,470.0 586.8,470.0 600.1,469.6 613.4,469.6 626.7,469.5 640.1,469.5 653.4,469.4 666.7,469.4 680.0,469.3 693.3,469.3" fill="none" stroke="#7030a0" stroke-width="3.0" stroke-linejoin="round"/>
<g fill="#7030a0"><circle cx="107.7" cy="573.0" r="4.3"/><circle cx="121.0" cy="572.5" r="4.3"/><circle cx="134.3" cy="572.0" r="4.3"/><circle cx="147.6" cy="571.0" r="4.3"/><circle cx="160.9" cy="569.6" r="4.3"/><circle cx="174.2" cy="567.5" r="4.3"/><circle cx="187.5" cy="564.5" r="4.3"/><circle cx="200.8" cy="563.7" r="4.3"/><circle cx="214.1" cy="561.6" r="4.3"/><circle cx="227.4" cy="559.6" r="4.3"/><circle cx="240.8" cy="558.0" r="4.3"/><circle cx="254.1" cy="555.0" r="4.3"/><circle cx="267.4" cy="552.5" r="4.3"/><circle cx="280.7" cy="546.7" r="4.3"/><circle cx="294.0" cy="542.5" r="4.3"/><circle cx="307.3" cy="532.9" r="4.3"/><circle cx="320.6" cy="530.0" r="4.3"/><circle cx="333.9" cy="523.3" r="4.3"/><circle cx="347.2" cy="517.5" r="4.3"/><circle cx="360.5" cy="514.0" r="4.3"/><circle cx="373.9" cy="511.5" r="4.3"/><circle cx="387.2" cy="506.7" r="4.3"/><circle cx="400.5" cy="500.4" r="4.3"/><circle cx="413.8" cy="494.8" r="4.3"/><circle cx="427.1" cy="490.0" r="4.3"/><circle cx="440.4" cy="487.5" r="4.3"/><circle cx="453.7" cy="486.0" r="4.3"/><circle cx="467.0" cy="482.5" r="4.3"/><circle cx="480.3" cy="480.4" r="4.3"/><circle cx="493.6" cy="477.3" r="4.3"/><circle cx="507.0" cy="475.2" r="4.3"/><circle cx="520.3" cy="474.6" r="4.3"/><circle cx="533.6" cy="473.1" r="4.3"/><circle cx="546.9" cy="471.7" r="4.3"/><circle cx="560.2" cy="470.4" r="4.3"/><circle cx="573.5" cy="470.0" r="4.3"/><circle cx="586.8" cy="470.0" r="4.3"/><circle cx="600.1" cy="469.6" r="4.3"/><circle cx="613.4" cy="469.6" r="4.3"/><circle cx="626.7" cy="469.5" r="4.3"/><circle cx="640.1" cy="469.5" r="4.3"/><circle cx="653.4" cy="469.4" r="4.3"/><circle cx="666.7" cy="469.4" r="4.3"/><circle cx="680.0" cy="469.3" r="4.3"/><circle cx="693.3" cy="469.3" r="4.3"/></g>
<polyline points="107.7,570.2 121.0,558.5 134.3,550.0 147.6,541.7 160.9,530.2 174.2,522.5 187.5,511.2 200.8,493.9 214.1,485.4 227.4,479.1 240.8,473.5 254.1,468.3 267.4,464.5 280.7,460.3 294.0,455.3 307.3,451.0 320.6,447.3 333.9,444.1 347.2,441.5 360.5,439.0 373.9,437.0 387.2,434.8 400.5,433.7 413.8,432.9 427.1,430.7 440.4,429.7 453.7,428.8 467.0,427.9 480.3,427.3 493.6,426.8 507.0,426.2 520.3,425.7 533.6,425.2 546.9,424.7 560.2,424.2 573.5,423.6 586.8,423.2 600.1,422.9" fill="none" stroke="#ff0000" stroke-width="4.5" stroke-linejoin="round"/>
<g fill="#ff0000"><circle cx="107.7" cy="570.2" r="6.2"/><circle cx="121.0" cy="558.5" r="6.2"/><circle cx="134.3" cy="550.0" r="6.2"/><circle cx="147.6" cy="541.7" r="6.2"/><circle cx="160.9" cy="530.2" r="6.2"/><circle cx="174.2" cy="522.5" r="6.2"/><circle cx="187.5" cy="511.2" r="6.2"/><circle cx="200.8" cy="493.9" r="6.2"/><circle cx="214.1" cy="485.4" r="6.2"/><circle cx="227.4" cy="479.1" r="6.2"/><circle cx="240.8" cy="473.5" r="6.2"/><circle cx="254.1" cy="468.3" r="6.2"/><circle cx="267.4" cy="464.5" r="6.2"/><circle cx="280.7" cy="460.3" r="6.2"/><circle cx="294.0" cy="455.3" r="6.2"/><circle cx="307.3" cy="451.0" r="6.2"/><circle cx="320.6" cy="447.3" r="6.2"/><circle cx="333.9" cy="444.1" r="6.2"/><circle cx="347.2" cy="441.5" r="6.2"/><circle cx="360.5" cy="439.0" r="6.2"/><circle cx="373.9" cy="437.0" r="6.2"/><circle cx="387.2" cy="434.8" r="6.2"/><circle cx="400.5" cy="433.7" r="6.2"/><circle cx="413.8" cy="432.9" r="6.2"/><circle cx="427.1" cy="430.7" r="6.2"/><circle cx="440.4" cy="429.7" r="6.2"/><circle cx="453.7" cy="428.8" r="6.2"/><circle cx="467.0" cy="427.9" r="6.2"/><circle cx="480.3" cy="427.3" r="6.2"/><circle cx="493.6" cy="426.8" r="6.2"/><circle cx="507.0" cy="426.2" r="6.2"/><circle cx="520.3" cy="425.7" r="6.2"/><circle cx="533.6" cy="425.2" r="6.2"/><circle cx="546.9" cy="424.7" r="6.2"/><circle cx="560.2" cy="424.2" r="6.2"/><circle cx="573.5" cy="423.6" r="6.2"/><circle cx="586.8" cy="423.2" r="6.2"/><circle cx="600.1" cy="422.9" r="6.2"/></g>
<line x1="560.2" y1="198.6" x2="569.2" y2="197" stroke="#f46ef0" stroke-width="2"/>
<rect x="606.2" y="22.4" width="26.7" height="23.6" rx="2.2" fill="#3d4ea1"/>
<text x="619.5500000000001" y="42.4" text-anchor="middle" font-family="Liberation Serif" font-size="21.2" fill="#fff" stroke="#fff" stroke-width="0.35">M</text>
<rect x="637.6" y="22.4" width="26.7" height="23.6" rx="2.2" fill="#7b3f98"/>
<text x="650.95" y="42.4" text-anchor="middle" font-family="Liberation Serif" font-size="21.2" fill="#fff" stroke="#fff" stroke-width="0.35">H</text>
<rect x="669.2" y="22.4" width="26.7" height="23.6" rx="2.2" fill="#e95b2b"/>
<text x="682.5500000000001" y="42.4" text-anchor="middle" font-family="Liberation Serif" font-size="21.2" fill="#fff" stroke="#fff" stroke-width="0.35">E</text>
<rect x="700.9" y="22.4" width="26.7" height="23.6" rx="2.2" fill="#f0ad24"/>
<text x="714.25" y="42.4" text-anchor="middle" font-family="Liberation Serif" font-size="21.2" fill="#fff" stroke="#fff" stroke-width="0.35">S</text>
<rect x="732.5" y="22.4" width="26.7" height="23.6" rx="2.2" fill="#1e6c38"/>
<text x="745.85" y="42.4" text-anchor="middle" font-family="Liberation Serif" font-size="21.2" fill="#fff" stroke="#fff" stroke-width="0.35">I</text>
<text x="606" y="58.4" font-family="Liberation Sans" font-size="8.2" font-weight="bold" fill="#333" textLength="153" lengthAdjust="spacingAndGlyphs">กระทรวงการอุดมศึกษา วิทยาศาสตร์ วิจัยและนวัตกรรม</text>
<text x="606" y="66" font-family="Liberation Sans" font-size="5.6" fill="#444" textLength="153" lengthAdjust="spacingAndGlyphs">Ministry of Higher Education, Science, Research and Innovation</text>
<rect x="766.6" y="23" width="35.9" height="55.6" fill="#9ac43c"/>
<circle cx="784.4" cy="42.1" r="14.4" fill="#fff"/>
<circle cx="784.4" cy="42.1" r="13.6" fill="none" stroke="#8ea6cc" stroke-width="0.8"/>
<circle cx="784.4" cy="42.1" r="11.2" fill="none" stroke="#b8c6e0" stroke-width="1.6" stroke-dasharray="1.2 1"/>
<circle cx="784.4" cy="42.1" r="7.6" fill="none" stroke="#2d4f9c" stroke-width="1.5"/>
<line x1="787.40" y1="42.10" x2="793.90" y2="42.10" stroke="#2d4f9c" stroke-width="1.1"/>
<line x1="786.52" y1="44.22" x2="791.12" y2="48.82" stroke="#2d4f9c" stroke-width="1.1"/>
<line x1="784.40" y1="45.10" x2="784.40" y2="51.60" stroke="#2d4f9c" stroke-width="1.1"/>
<line x1="782.28" y1="44.22" x2="777.68" y2="48.82" stroke="#2d4f9c" stroke-width="1.1"/>
<line x1="781.40" y1="42.10" x2="774.90" y2="42.10" stroke="#2d4f9c" stroke-width="1.1"/>
<line x1="782.28" y1="39.98" x2="777.68" y2="35.38" stroke="#2d4f9c" stroke-width="1.1"/>
<line x1="784.40" y1="39.10" x2="784.40" y2="32.60" stroke="#2d4f9c" stroke-width="1.1"/>
<line x1="786.52" y1="39.98" x2="791.12" y2="35.38" stroke="#2d4f9c" stroke-width="1.1"/>
<circle cx="784.4" cy="42.1" r="1.6" fill="#2d4f9c"/>
<text x="784.6" y="66.3" text-anchor="middle" font-family="Liberation Sans" font-size="10" font-weight="bold" fill="#1f3f8f">วช.</text>
<line x1="774" y1="68" x2="795" y2="68" stroke="#e0a030" stroke-width="0.5"/>
<text x="784.1" y="74.2" text-anchor="middle" font-family="Liberation Serif" font-size="6.4" font-weight="bold" fill="#1f3f8f" textLength="23" lengthAdjust="spacingAndGlyphs">NRCT</text>
<path d="M807 32.7 C811 36 814 42 815.5 50 C818 47 822 46 826 47.5" fill="none" stroke="#8cc63f" stroke-width="1.8" stroke-linecap="round"/>
<path d="M807 32.7 L810.5 35 L812 40 Z" fill="#8cc63f"/>
<path d="M820.5 46.5 C833 41.5 842.5 49 842 59 C841.5 67.5 834 72.5 826.5 72 C831 69 835 64.5 835 58.5 C835 51.5 830 47 820.5 46.5 Z" fill="#1d5e2c"/>
<path d="M817.5 49 C826 47.5 832.5 52.5 832.5 59.5 C832.5 65 829 69 825.5 70.8" fill="none" stroke="#8cc63f" stroke-width="1.2"/>
<circle cx="823.9" cy="67.8" r="2.9" fill="#1d5e2c"/>
<path d="M826.5 72 C824 72 822 70.5 823 68" fill="none" stroke="#1d5e2c" stroke-width="1.6"/>
<path d="M843.8 41.8 C847 42.5 848 45.5 847.8 50 C847.5 58 851 62.8 856 62.8 C862 62.8 865.6 57.5 865.3 51 C865 45.5 861 41.8 856.5 41.8 C854.5 41.8 853 42.5 852.3 43.5" fill="none" stroke="#1d5e2c" stroke-width="3.6" stroke-linecap="round"/>
<path d="M850.5 44.5 C853 39 858 35 862.2 29 C861 35 858.5 40 854.5 44.5 Z" fill="#1d5e2c"/>
<path d="M845 60 C849 67 856 68.5 861 67.2 C866.5 65.5 869.5 58.5 868.6 51" fill="none" stroke="#8cc63f" stroke-width="1.5"/>
<text x="866.8" y="71.6" font-family="Liberation Sans" font-size="12.3" font-weight="bold" fill="#1d5e2c" textLength="17.6" lengthAdjust="spacingAndGlyphs">5G</text>
<circle cx="923.5" cy="46.4" r="26.8" fill="#fff" stroke="#1f8a4d" stroke-width="1.1"/>
<circle cx="923.5" cy="46.4" r="22.8" fill="none" stroke="#7fbf95" stroke-width="3.2" stroke-dasharray="1.3 0.9"/>
<circle cx="923.5" cy="46.4" r="18.8" fill="#1f8a4d"/>
<path d="M909 37.5 C913 40 918 40.5 923.5 41 C929 40.5 934 40 938 37.5 C936 43 931 46.5 923.5 47 C916 46.5 911 43 909 37.5 Z" fill="#fff"/>
<path d="M913 40.5 C916 43.5 919.5 44.5 923.5 44.5 C927.5 44.5 931 43.5 934 40.5" fill="none" stroke="#1f8a4d" stroke-width="0.9"/>
<path d="M923.5 33 V62" stroke="#fff" stroke-width="1.8"/>
<g fill="none" stroke="#fff" stroke-width="1.6" stroke-linecap="round"><path d="M918.5 48 C927 49.5 928 52.5 923.5 54 C919 55.5 920 58.5 926.5 59.5"/><path d="M928.5 48 C920 49.5 919 52.5 923.5 54 C928 55.5 927 58.5 920.5 59.5"/></g>
<path d="M923.5 30.5 L926 35.5 L923.5 38 L921 35.5 Z" fill="#fff"/>
<text x="923.7" y="81" text-anchor="middle" font-family="Liberation Sans" font-size="9.5" font-weight="bold" fill="#1f8a4d" textLength="54.6" lengthAdjust="spacingAndGlyphs">กรมควบคุมโรค</text>
<text transform="translate(35.6 348.3) rotate(-90)" text-anchor="middle" font-family="Liberation Sans" font-size="16" fill="#404040" stroke="#404040" stroke-width="0.25" textLength="118" lengthAdjust="spacingAndGlyphs">จำนวนผู้ติดเชื้อสะสม</text>
</svg>

<div class="yl" style="left:2px;top:250px">100000</div>
<div class="yl" style="left:2px;top:356px">10000</div>
<div class="yl" style="left:2px;top:462px">1000</div>
<div class="yl" style="left:2px;top:568px">100</div>
<div class="xl" style="left:92.7px">1</div><div class="xl" style="left:119.3px">3</div><div class="xl" style="left:145.9px">5</div><div class="xl" style="left:172.5px">7</div><div class="xl" style="left:199.1px">9</div><div class="xl" style="left:225.8px">11</div><div class="xl" style="left:252.4px">13</div><div class="xl" style="left:279.0px">15</div><div class="xl" style="left:305.6px">17</div><div class="xl" style="left:332.2px">19</div><div class="xl" style="left:358.9px">21</div><div class="xl" style="left:385.5px">23</div><div class="xl" style="left:412.1px">25</div><div class="xl" style="left:438.7px">27</div><div class="xl" style="left:465.3px">29</div><div class="xl" style="left:492.0px">31</div><div class="xl" style="left:518.6px">33</div><div class="xl" style="left:545.2px">35</div><div class="xl" style="left:571.8px">37</div><div class="xl" style="left:598.4px">39</div><div class="xl" style="left:625.1px">41</div><div class="xl" style="left:651.7px">43</div><div class="xl" style="left:678.3px">45</div><div class="xl" style="left:704.9px">47</div><div class="xl" style="left:731.5px">49</div><div class="xl" style="left:758.2px">51</div><div class="xl" style="left:784.8px">53</div><div class="xl" style="left:811.4px">55</div><div class="xl" style="left:838.0px">57</div>


<div style="position:absolute;left:0;top:671px;width:960px;height:32px;background:#ff6593"></div>
<div id="title" class="t" style="left:52.18px;top:83.12px;font-size:29.5px;transform:scaleX(0.8986);color:#000;-webkit-text-stroke:0.3px #000">จำนวนผู้ติดเชื้อนับจากวันที่มีผู้ติดเชื้อถึง <span style="font-size:26.5px;-webkit-text-stroke:0.6px #000">100</span> ราย</div>
<div id="sub" class="t" style="left:607.17px;top:90.55px;font-size:19px;transform:scaleX(0.8901);color:#ff0000;-webkit-text-stroke:0.1px #ff0000">(ของไทยเริ่มจากวันที่ 15 มี.ค. 63)</div>
<div id="l2a" class="t" style="left:51.78px;top:139.22px;font-size:21.5px;transform:scaleX(0.9154);color:#000;-webkit-text-stroke:0.15px #000">สถานการณ์วันที่</div>
<div id="l2b" class="t" style="left:199.50px;top:134.55px;font-size:27px;transform:scaleX(0.9970);color:#ff0066;-webkit-text-stroke:0.5px #ff0066">21 เมษายน</div>
<div id="l2c" class="t" style="left:341.84px;top:141.78px;font-size:18.5px;transform:scaleX(1.1598);color:#000">2563</div>
<div id="us" class="t" style="left:597.08px;top:182.72px;font-size:17.5px;transform:scaleX(0.8633);color:#f53cf0;-webkit-text-stroke:0.15px #f53cf0">สหรัฐอเมริกา</div>
<div id="es" class="t" style="left:712.05px;top:197.52px;font-size:17.5px;transform:scaleX(0.8881);color:#1a73e8;-webkit-text-stroke:0.15px #1a73e8">สเปน</div>
<div id="fr" class="t" style="left:745.47px;top:210.43px;font-size:17.5px;transform:scaleX(0.8538);color:#595959;-webkit-text-stroke:0.15px #595959">ฝรั่งเศส</div>
<div id="it" class="t" style="left:834.84px;top:221.58px;font-size:18.5px;transform:scaleX(0.9194);color:#1f4e79;-webkit-text-stroke:0.15px #1f4e79">อิตาลี</div>
<div id="de" class="t" style="left:754.80px;top:232.38px;font-size:17.5px;transform:scaleX(0.8375);color:#000;-webkit-text-stroke:0.15px #000">เยอรมัน</div>
<div id="uk" class="t" style="left:721.46px;top:248.52px;font-size:17.5px;transform:scaleX(0.8448);color:#33a866;-webkit-text-stroke:0.25px #33a866">สหราชอาณาจักร</div>
<div id="cn" class="t" style="left:873.33px;top:245.33px;font-size:18.2px;transform:scaleX(0.9037);color:#92e82a;-webkit-text-stroke:0.15px #92e82a">จีน</div>
<div id="ir" class="t" style="left:873.38px;top:269.45px;font-size:17px;transform:scaleX(0.8763);color:#ed7d31;-webkit-text-stroke:0.15px #ed7d31">อิหร่าน</div>
<div id="kr" class="t" style="left:876.78px;top:328.52px;font-size:17.5px;transform:scaleX(0.8167);color:#ffc000;-webkit-text-stroke:0.15px #ffc000">เกาหลีใต้</div>
<div id="sg" class="t" style="left:742.53px;top:336.62px;font-size:17.5px;transform:scaleX(0.8343);color:#00b050;-webkit-text-stroke:0.15px #00b050">สิงคโปร์</div>
<div id="jp" class="t" style="left:884.16px;top:352.35px;font-size:17px;transform:scaleX(0.9320);color:#2e75b6;-webkit-text-stroke:0.15px #2e75b6">ญี่ปุ่น</div>
<div id="my" class="t" style="left:652.89px;top:365.93px;font-size:17.5px;transform:scaleX(0.8556);color:#00b0f0;-webkit-text-stroke:0.15px #00b0f0">มาเลเซีย</div>
<div id="hk" class="t" style="left:714.87px;top:461.90px;font-size:16px;transform:scaleX(0.9595);color:#7030a0;-webkit-text-stroke:0.15px #7030a0">ฮ่องกง</div>
<div id="th" class="t" style="left:603.00px;top:395.73px;font-size:37.5px;transform:scaleX(0.8533);color:#ff0000;-webkit-text-stroke:0.8px #ff0000">ไทย</div>
<div id="n2811" class="t" style="left:662.29px;top:411.69px;font-size:28.6px;transform:scaleX(0.9880);color:#ff0000;-webkit-text-stroke:0.2px #ff0000">2,811</div>
<div id="inc" class="t" style="left:737.89px;top:415.60px;font-size:24px;transform:scaleX(0.9084);color:#ff0000">(เพิ่มขึ้น 19 ราย)</div>
<div id="xt" class="t" style="left:401.00px;top:620.83px;font-size:15.5px;transform:scaleX(0.8539);color:#262626;-webkit-text-stroke:0.45px #262626"><u>จำนวนวัน</u>หลังจากวันที่มีผู้ติดเชื้อ 100 ราย</div>
<div id="src" class="t" style="left:14.73px;top:650.17px;font-size:14.5px;transform:scaleX(0.8452);color:#1a1a1a"><span style="color:#3b5a8a">แหล่งข้อมูล:</span> สำนักงานการวิจัยแห่งชาติ (วช.), กรมควบคุมโรค, Johns Hopkins University, องค์การอนามัยโลก (WHO)</div>
<div id="foot" class="t" style="left:143.72px;top:682.55px;font-size:17px;transform:scaleX(0.8550);color:#fff;-webkit-text-stroke:0.3px #fff">ศูนย์ปฏิบัติการฉุกเฉินด้านวิจัยและวิชาการ &nbsp; วช. &nbsp; กระทรวงการอุดมศึกษา วิทยาศาสตร์ วิจัยและนวัตกรรม</div>
</body></html>
